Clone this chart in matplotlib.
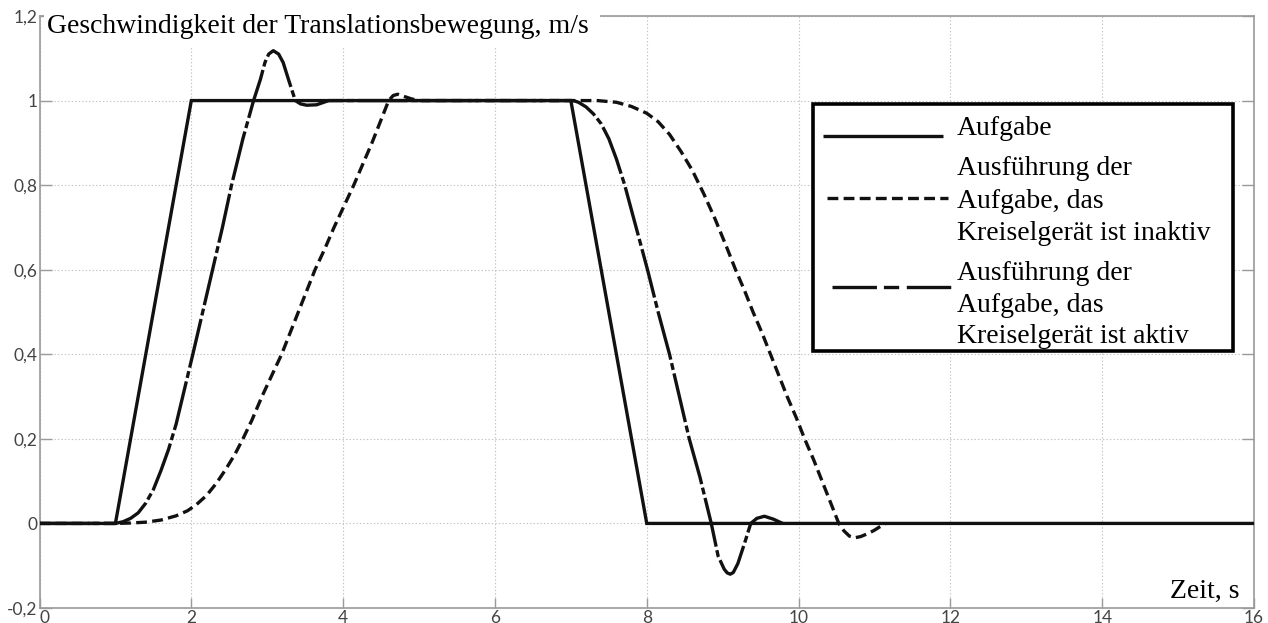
import matplotlib
matplotlib.use("Agg")
import matplotlib.pyplot as plt
from matplotlib.lines import Line2D
from matplotlib.patches import Rectangle
from matplotlib.ticker import FixedLocator, FuncFormatter
from matplotlib.transforms import Affine2D

plt.rcParams["lines.scale_dashes"] = False
plt.rcParams["font.family"] = ["Lato", "DejaVu Sans"]

W, H = 1268, 623

# --- data -----------------------------------------------------------------
# commanded velocity profile (trapezoid)
time_task = [0, 1, 2, 7, 8, 16]
speed_task = [0, 0, 1, 1, 0, 0]

# response with the gyro device switched off
time_passive = [0, 1.0, 1.2, 1.4, 1.6, 1.8, 1.95, 2.07, 2.2, 2.33, 2.45, 2.57,
                2.68, 2.8, 2.93, 3.06, 3.19, 3.3, 3.41, 3.52, 3.63, 3.76,
                3.88, 4.01, 4.14, 4.26, 4.38, 4.49, 4.60, 4.66, 4.72, 4.8,
                4.9, 5.0,
                7.0, 7.35, 7.6, 7.8, 8.0, 8.15, 8.3, 8.45, 8.6, 8.75, 8.9,
                9.06, 9.17, 9.29, 9.40, 9.52, 9.63, 9.74, 9.85, 9.97, 10.08,
                10.2, 10.31, 10.42, 10.53, 10.6, 10.67, 10.74, 10.82, 10.9,
                10.99, 11.07, 11.15]
speed_passive = [0, 0, 0.001, 0.003, 0.008, 0.018, 0.03, 0.045, 0.066, 0.095,
                 0.127, 0.162, 0.2, 0.245, 0.3, 0.35, 0.4, 0.45, 0.5, 0.55,
                 0.6, 0.65, 0.7, 0.75, 0.8, 0.85, 0.9, 0.95, 1.0, 1.012,
                 1.015, 1.01, 1.004, 1.0,
                 1.0, 1.0, 0.996, 0.986, 0.97, 0.95, 0.92, 0.88, 0.835,
                 0.78, 0.72, 0.65, 0.6, 0.55, 0.5, 0.45, 0.4, 0.35, 0.3,
                 0.25, 0.2, 0.15, 0.1, 0.05, 0.0, -0.018, -0.03, -0.034,
                 -0.031, -0.025, -0.017, -0.008, 0.0]

# response with the gyro device switched on
time_active = [0, 1.0, 1.1, 1.2, 1.3, 1.4, 1.5, 1.6, 1.7, 1.8, 1.9, 2.02,
               2.15, 2.28, 2.41, 2.53, 2.68, 2.82, 2.91, 2.97, 3.02, 3.08,
               3.15, 3.21, 3.28, 3.37, 3.44, 3.52, 3.65, 3.81,
               7.0, 7.05, 7.1, 7.2, 7.3, 7.4, 7.5, 7.6, 7.71, 7.86, 8.01,
               8.15, 8.30, 8.43, 8.56, 8.70, 8.85, 8.94, 9.02, 9.06, 9.10,
               9.14, 9.20, 9.29, 9.37, 9.45, 9.55, 9.67, 9.79]
speed_active = [0, 0, 0.004, 0.012, 0.025, 0.048, 0.08, 0.125, 0.175, 0.235,
                0.31, 0.4, 0.5, 0.6, 0.7, 0.8, 0.91, 1.0, 1.05, 1.09, 1.11,
                1.118, 1.11, 1.09, 1.05, 1.0, 0.992, 0.989, 0.99, 1.0,
                1.0, 0.999, 0.996, 0.985, 0.968, 0.945, 0.91, 0.862, 0.8,
                0.7, 0.6, 0.5, 0.4, 0.3, 0.2, 0.11, 0.0, -0.077, -0.108,
                -0.117, -0.12, -0.116, -0.095, -0.046, 0.0, 0.012, 0.017,
                0.01, 0.0]

x_ticks = [0, 2, 4, 6, 8, 10, 12, 14, 16]
y_ticks = [-0.2, 0, 0.2, 0.4, 0.6, 0.8, 1.0, 1.2]

title_text = "Geschwindigkeit der Translationsbewegung, m/s"
xlabel_text = "Zeit, s"
legend_labels = [
    "Aufgabe",
    "Ausführung der\nAufgabe, das\nKreiselgerät ist inaktiv",
    "Ausführung der\nAufgabe, das\nKreiselgerät ist aktiv",
]

# --- styles ---------------------------------------------------------------
INK = "#111111"
LW = 2.4
DASHED = (7.8, 3.8)
DASHDOT = (36.0, 2.6, 5.0, 2.6)
SERIF = ["Liberation Serif", "DejaVu Serif"]
AXIS_GREY = "#9a9a9a"

fig = plt.figure(figsize=(W / 100, H / 100), dpi=100)
ax = fig.add_axes([39.5 / W, (H - 608) / H, (1254 - 39.5) / W, (608 - 16) / H])

# pixel-based figure transform (origin top-left)
px = Affine2D().scale(1 / W, -1 / H).translate(0, 1) + fig.transFigure

ax.plot(time_passive, speed_passive, color=INK, lw=LW, linestyle=(0, DASHED),
        dash_capstyle="butt", dash_joinstyle="round", zorder=3)
ax.plot(time_active, speed_active, color=INK, lw=LW, linestyle=(0, DASHDOT),
        dash_capstyle="butt", dash_joinstyle="round", zorder=3)
ax.plot(time_task, speed_task, color=INK, lw=LW, solid_joinstyle="miter",
        zorder=4)

ax.set_xlim(0, 16)
ax.set_ylim(-0.2, 1.2)
ax.xaxis.set_major_locator(FixedLocator(x_ticks))
ax.yaxis.set_major_locator(FixedLocator(y_ticks))
fmt = FuncFormatter(lambda v, _: f"{v:g}".replace(".", ","))
ax.xaxis.set_major_formatter(fmt)
ax.yaxis.set_major_formatter(fmt)

ax.grid(True, color="#c4c4c4", linestyle=(0, (1.0, 1.5)), linewidth=0.8)
ax.set_axisbelow(True)

for side in ("left", "right", "top", "bottom"):
    ax.spines[side].set_color(AXIS_GREY)
    ax.spines[side].set_linewidth(1.2)

ax.tick_params(axis="x", direction="in", length=7, width=1.0, color=AXIS_GREY,
               labelcolor="#444444", labelsize=12.5, pad=1.5, top=False)
ax.tick_params(axis="y", direction="in", length=8.5, width=1.0,
               color=AXIS_GREY, labelcolor="#444444", labelsize=12.5,
               pad=1.5, right=True)

# first x label sits just right of the origin, clear of the "-0,2" label
fig.canvas.draw()
ax.get_xticklabels()[0].set_horizontalalignment("left")

# title block inside the axes, on a white patch over grid and top spine
ax.add_patch(Rectangle((44, 12), 556, 35, transform=px, facecolor="white",
                       edgecolor="none", zorder=5, clip_on=False))
ax.text(47, 33, title_text, transform=px, family=SERIF, fontsize=20,
        color="black", va="baseline", ha="left", zorder=6)

ax.text(1170, 598, xlabel_text, transform=px, family=SERIF, fontsize=20,
        color="black", va="baseline", ha="left", zorder=6)

# legend box
ax.add_patch(Rectangle((813, 104), 420, 247, transform=px, facecolor="white",
                       edgecolor="black", linewidth=2.6, zorder=7,
                       clip_on=False))
handle_styles = [
    dict(linestyle="-", xs=(823, 943), y=136),
    dict(linestyle=(0, DASHED), xs=(827, 948), y=198),
    dict(linestyle=(0, (32.0, 5.0, 11.0, 5.5)), xs=(832, 953), y=287),
]
for hs in handle_styles:
    ax.add_line(Line2D(hs["xs"], (hs["y"], hs["y"]), transform=px, color=INK,
                       lw=LW, linestyle=hs["linestyle"], dash_capstyle="butt",
                       solid_capstyle="butt", zorder=8, clip_on=False))

baselines = [[135], [175, 208, 240], [280, 312, 343]]
for label, rows in zip(legend_labels, baselines):
    for line, yb in zip(label.split("\n"), rows):
        ax.text(957, yb, line, transform=px, family=SERIF, fontsize=20,
                color="black", va="baseline", ha="left", zorder=8)

fig.savefig("out.png", dpi=100)
